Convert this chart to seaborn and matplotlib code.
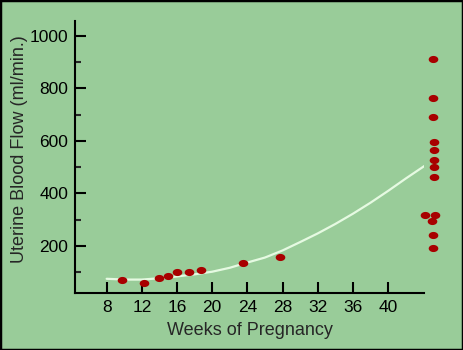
import numpy as np
import matplotlib
matplotlib.use("Agg")
import matplotlib.pyplot as plt
import seaborn as sns
import pandas as pd

# datos
semanas = [9.7, 12.2, 13.9, 15.0, 16.0, 17.4, 18.7, 23.5, 27.7,
           45.1, 45.15, 45.15, 45.2, 45.2, 45.2, 45.2, 45.2,
           44.25, 45.3, 45.0, 45.15, 45.15]
flujo = [68, 59, 78, 84, 98, 98, 107, 134, 158,
         911, 765, 691, 597, 567, 528, 500, 462,
         318, 318, 296, 242, 191]

curva_semanas = [8, 10, 12, 14, 16, 18, 20, 22, 24, 26, 28, 30, 32,
                 34, 36, 38, 40, 42, 44.7]
curva_flujo = [74, 71, 71, 76, 83, 91, 101, 116, 136, 155, 182, 214, 247,
               283, 322, 364, 409, 456, 517]

x_ticks = [8, 12, 16, 20, 24, 28, 32, 36, 40]
y_ticks = [200, 400, 600, 800, 1000]
y_menores = [100, 300, 500, 700, 900]

fondo = "#99cc99"
rojo = "#a80000"

sns.set_style("white")
plt.rcParams["font.family"] = ["Liberation Sans", "DejaVu Sans"]

fig = plt.figure(figsize=(4.63, 3.5), dpi=100, facecolor=fondo)
ax = fig.add_axes([0.162, 0.163, 0.754, 0.777])
ax.set_facecolor(fondo)

df_puntos = pd.DataFrame({"semana": semanas, "flujo": flujo})
df_curva = pd.DataFrame({"semana": curva_semanas, "flujo": curva_flujo})

sns.lineplot(data=df_curva, x="semana", y="flujo", ax=ax, color="#e6fae2",
             linewidth=1.6, zorder=2)

# marcador eliptico
t = np.linspace(0, 2 * np.pi, 40)
elipse = np.column_stack([np.cos(t), 0.74 * np.sin(t)])
sns.scatterplot(data=df_puntos, x="semana", y="flujo", ax=ax, color=rojo,
                marker=elipse, s=48, linewidth=0, zorder=3, clip_on=False)

ax.set_xlim(4.4, 44.1)
ax.set_ylim(20, 1057)
ax.set_xticks(x_ticks)
ax.set_yticks(y_ticks)
ax.set_yticks(y_menores, minor=True)

for s in ["top", "right"]:
    ax.spines[s].set_visible(False)
for s in ["left", "bottom"]:
    ax.spines[s].set_linewidth(1.5)
    ax.spines[s].set_color("black")

ax.tick_params(axis="both", which="major", direction="in", length=8, width=1.5,
               labelsize=12.5, pad=5, colors="black")
ax.tick_params(axis="y", which="minor", direction="in", length=4.3, width=1.5,
               left=True)
ax.tick_params(axis="x", which="major", bottom=True)
ax.tick_params(axis="y", which="major", left=True)

ax.set_xlabel("Weeks of Pregnancy", fontsize=13, labelpad=5)
ax.set_ylabel("Uterine Blood Flow (ml/min.)", fontsize=13)
ax.yaxis.set_label_coords(-0.135, 0.53)

# marco negro
fig.patches.append(plt.Rectangle((0, 0), 1, 1, transform=fig.transFigure,
                                 fill=False, edgecolor="black", linewidth=2.5))

fig.savefig("out.png", dpi=100, facecolor=fondo)
